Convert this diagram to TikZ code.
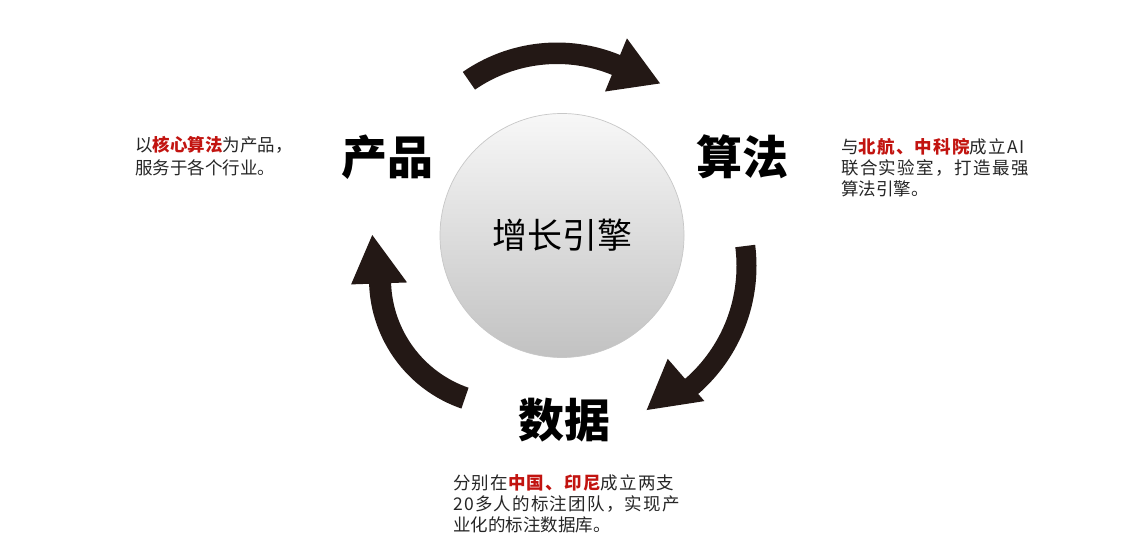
\documentclass[tikz,border=0pt]{standalone}
\usepackage{fontspec}
\setmainfont{Noto Sans CJK SC}
\newfontfamily\cjk{Noto Sans CJK SC}
\newfontfamily\cjkwide{Noto Sans CJK SC}[LetterSpace=7]
\newfontfamily\cjkwider{Noto Sans CJK SC}[LetterSpace=8]

\definecolor{ink}{RGB}{35,24,21}
\definecolor{accent}{RGB}{194,20,16}
\definecolor{bodytext}{RGB}{38,38,38}

\newcommand\hl[1]{\textcolor{accent}{\bfseries #1}}

\tikzset{
  cyclearrow/.style={fill=ink},
  hub/.style={circle, draw=black!22, line width=0.7pt,
    top color=black!3, bottom color=black!24,
    minimum size=244pt, inner sep=0pt,
    font=\cjk\fontsize{35}{35}\selectfont, text=black},
  stage/.style={font=\cjk\bfseries\fontsize{46}{46}\selectfont, inner sep=0pt, text=black},
  note/.style={font=\cjk\fontsize{17.5}{17.5}\selectfont, text=bodytext, anchor=west, inner sep=0pt},
}

\begin{document}
\begin{tikzpicture}[x=1pt,y=1pt]
  \useasboundingbox (0,0) rectangle (1121,-559);
  \fill[white] (0,0) rectangle (1121,-559);

  % cycle arrows, each a thick arc ending in a triangular head
  \begin{scope}[shift={(557,-208)}]
    \coordinate (topcentre) at (0,0);
    \fill[cyclearrow] (124.7:165.5) arc[start angle=124.7, end angle=67.6, radius=165.5]
      -- (67.6:183.5) -- (50.4:161.7) -- (67.6:126) -- (67.6:144)
      arc[start angle=67.6, end angle=124.7, radius=144] -- cycle;
  \end{scope}
  \begin{scope}[shift={(587,-266)}]
    \coordinate (rightcentre) at (0,0);
    \fill[cyclearrow] (7.2:169.5) arc[start angle=7.2, end angle=-49, radius=169.5]
      -- (-49:179) -- (-67.5:155.9) -- (-49:123) -- (-49:149.5)
      arc[start angle=-49, end angle=7.2, radius=149.5] -- cycle;
  \end{scope}
  \begin{scope}[shift={(506,-279)}]
    \coordinate (leftcentre) at (0,0);
    \fill[cyclearrow] (251:137) arc[start angle=251, end angle=182, radius=137]
      -- (182:155) -- (161.8:140.8) -- (182:99) -- (182:115)
      arc[start angle=182, end angle=251, radius=115] -- cycle;
  \end{scope}

  % central hub
  \node[hub] (engine) at (562,-235.5) {增长引擎};

  % stage labels
  \node[stage] (product) at (387,-157.5) {产品};
  \node[stage] (algo) at (742,-156.5) {算法};
  \node[stage] (data) at (564.5,-420) {数据};

  % descriptions
  \node[note] (p1) at (135,-145) {以\hl{核心算法}为产品，};
  \node[note] (p2) at (135,-167.5) {服务于各个行业。};

  \node[note, font=\cjkwide\fontsize{17.5}{17.5}\selectfont] (a1) at (841,-146.5) {与\hl{北航、中科院}成立AI};
  \node[note, font=\cjkwider\fontsize{17.5}{17.5}\selectfont] (a2) at (841,-168) {联合实验室，打造最强};
  \node[note] (a3) at (841,-189) {算法引擎。};

  \node[note, font=\cjkwide\fontsize{17.5}{17.5}\selectfont] (d1) at (453,-483) {分别在\hl{中国、印尼}成立两支};
  \node[note, font=\cjkwide\fontsize{17.5}{17.5}\selectfont] (d2) at (453,-504) {20多人的标注团队，实现产};
  \node[note] (d3) at (453,-524.5) {业化的标注数据库。};
\end{tikzpicture}
\end{document}
